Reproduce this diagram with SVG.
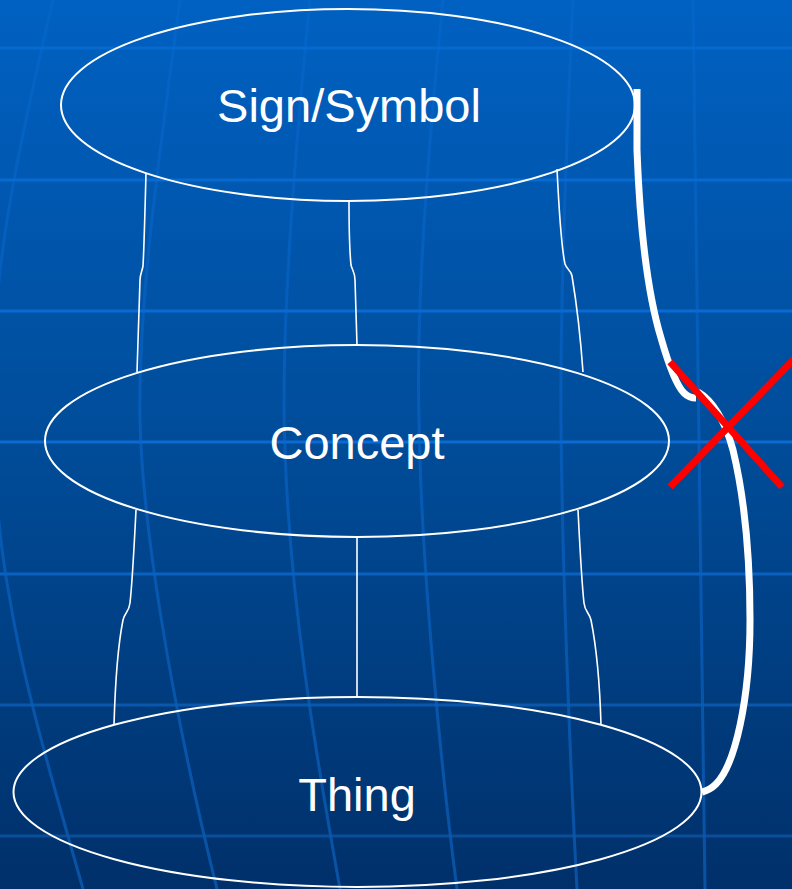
<svg xmlns="http://www.w3.org/2000/svg" width="792" height="889" viewBox="0 0 792 889">
<defs>
<linearGradient id="bg" x1="0" y1="0" x2="0" y2="889" gradientUnits="userSpaceOnUse">
<stop offset="0" stop-color="#0061c2"/>
<stop offset="0.5" stop-color="#004c99"/>
<stop offset="1" stop-color="#00306a"/>
</linearGradient>
<linearGradient id="gridc" x1="0" y1="0" x2="0" y2="889" gradientUnits="userSpaceOnUse">
<stop offset="0" stop-color="#0569d0"/>
<stop offset="0.5" stop-color="#0a6bd4"/>
<stop offset="1" stop-color="#0a4a90"/>
</linearGradient>
<linearGradient id="vgridc" x1="0" y1="0" x2="0" y2="889" gradientUnits="userSpaceOnUse">
<stop offset="0" stop-color="#0a6cd6" stop-opacity="0.35"/>
<stop offset="0.5" stop-color="#0a66cc" stop-opacity="0.6"/>
<stop offset="1" stop-color="#0a56aa" stop-opacity="0.9"/>
</linearGradient>
</defs>
<style>
.grid{fill:none;stroke:url(#gridc);stroke-width:3}
.vgrid{fill:none;stroke:url(#vgridc);stroke-width:3}
.node ellipse{fill:none;stroke:#ffffff;stroke-width:2}
.node text{font-family:"Liberation Sans",Arial,sans-serif;font-size:47px;fill:#ffffff;text-anchor:middle}
.thin{fill:none;stroke:#ffffff;stroke-width:1.6}
.thick{fill:none;stroke:#ffffff;stroke-width:7;stroke-linejoin:round}
.cross{stroke:#ff0000;stroke-width:7;fill:none}
</style>
<rect x="0" y="0" width="792" height="889" fill="url(#bg)"/>
<g id="background-grid">
<path class="grid" d="M0,48H792M0,180H792M0,311H792M0,442H792M0,574H792M0,705H792M0,836H792"/>
<path class="vgrid" d="M53,0 C25,120 0,230 -5,330 C-10,430 -5,520 10,600 C25,690 55,790 83,889"/>
<path class="vgrid" d="M180,0 C160,150 138,300 140,420 C142,520 170,700 217,889"/>
<path class="vgrid" d="M310,0 C295,150 280,330 285,450 C290,600 315,750 340,889"/>
<path class="vgrid" d="M443,0 C428,150 416,300 419,420 C421,560 440,760 457,889"/>
<path class="vgrid" d="M573,0 C566,150 560,300 561,420 C562,560 570,760 577,889"/>
<path class="vgrid" d="M693,0 C696,300 700,600 705,889"/>
</g>
<g id="connectors">
<path class="thin" d="M146,173 C145,210 144,250 143,266 C142,272 140,274 140,280 C139,310 138,340 137,372"/>
<path class="thin" d="M349,201 C349,230 350,255 351,265 C352,270 355,272 355,280 L357,345"/>
<path class="thin" d="M557,169 C559,210 562,250 565,264 C567,270 571,270 572,276 C576,300 580,330 583,372"/>
<path class="thin" d="M136,510 C134,550 132,585 130,603 C129,612 125,612 123,620 C117,650 115,690 114,725"/>
<path class="thin" d="M357,537 L357,698"/>
<path class="thin" d="M578,510 C580,550 582,585 584,603 C585,612 589,612 591,620 C597,650 600,690 601,725"/>
<path class="thick" d="M637,89 L637,150 C640,230 648,295 661,338 C669,366 676,385 684,393 C688,397 692,398 696,398"/>
<path class="thick" d="M698,392 C712,400 725,420 733,450 C745,500 750,560 750,620 C750,700 735,765 716,784 C711,789 706,791 702,792"/>
<g id="cross">
<path class="cross" d="M670,362 L782,487"/>
<path class="cross" d="M670,487 L800,353"/>
</g>
</g>
<g id="node-sign" class="node">
<ellipse cx="348" cy="105" rx="287" ry="96"/>
<text x="349" y="122">Sign/Symbol</text>
</g>
<g id="node-concept" class="node">
<ellipse cx="357" cy="441" rx="312" ry="96"/>
<text x="357" y="459">Concept</text>
</g>
<g id="node-thing" class="node">
<ellipse cx="357.5" cy="792" rx="344" ry="95"/>
<text x="357" y="811">Thing</text>
</g>
</svg>
